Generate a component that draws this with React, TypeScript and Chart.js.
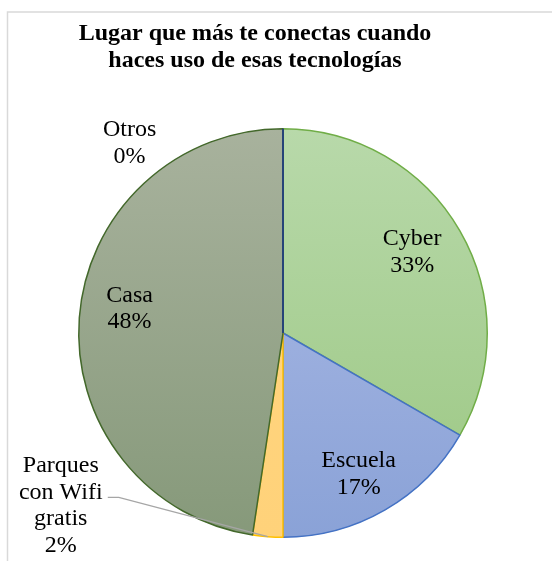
import React, { useEffect, useRef } from "react";
import { Chart, registerables } from "chart.js";

Chart.register(...registerables);

const TITLE_LINES = ["Lugar que más te conectas cuando", "haces uso de esas tecnologías"];
const CATEGORIES = ["Cyber", "Escuela", "Parques con Wifi gratis", "Casa", "Otros"];
const CATEGORY_LINES = [["Cyber"], ["Escuela"], ["Parques", "con Wifi", "gratis"], ["Casa"], ["Otros"]];
const VALUES = [14, 7, 1, 20, 0];

// styles
const GRAD_TOP = ["#b8d9aa", "#aebce6", "#ffd680", "#a8b29d", "#2f5597"];
const GRAD_BOTTOM = ["#9bc782", "#8aa2d7", "#ffd27a", "#86997a", "#2f5597"];
const BORDERS = ["#70ad47", "#4472c4", "#ffc000", "#43682b", "#264478"];
// label placement: polar (f, angleDeg) or relative offset (dx, dy) in radius units
const LABEL_PLACE: any[] = [
  { polar: true, f: 0.73, da: 0 },
  { polar: true, f: 0.81, da: 2.8 },
  { dx: -1.088, dy: 0.876, leader: true },
  { dx: -0.751, dy: -0.088 },
  { dx: -0.751, dy: -0.898 },
];

const SERIF = "'Liberation Serif', 'Times New Roman', serif";

export default function App() {
  const ref = useRef<HTMLCanvasElement | null>(null);

  useEffect(() => {
    const canvas = ref.current;
    if (!canvas) return;
    const total = VALUES.reduce((a, b) => a + b, 0);

    const grad = (c: any) => {
      const i = c.dataIndex ?? 0;
      const chart = c.chart;
      const area = chart.chartArea;
      if (!area) return GRAD_TOP[i];
      const g = chart.ctx.createLinearGradient(0, area.top, 0, area.bottom);
      g.addColorStop(0, GRAD_TOP[i]);
      g.addColorStop(1, GRAD_BOTTOM[i]);
      return g;
    };

    const overlay = {
      id: "overlay",
      afterDatasetsDraw(chart: any) {
        const ctx = chart.ctx;
        const meta = chart.getDatasetMeta(0);
        ctx.save();
        // frame
        ctx.strokeStyle = "#d9d9d9";
        ctx.lineWidth = 1.5;
        ctx.beginPath();
        ctx.moveTo(7.5, chart.height);
        ctx.lineTo(7.5, 12);
        ctx.lineTo(chart.width, 12);
        ctx.stroke();

        // title
        ctx.fillStyle = "#000";
        ctx.textAlign = "center";
        ctx.textBaseline = "alphabetic";
        ctx.font = `bold 24px ${SERIF}`;
        TITLE_LINES.forEach((t, k) => ctx.fillText(t, 255, 40 + k * 27));

        // zero-value slice line (Otros)
        meta.data.forEach((arc: any, i: number) => {
          if (VALUES[i] === 0) {
            ctx.strokeStyle = BORDERS[i];
            ctx.lineWidth = 2;
            ctx.beginPath();
            ctx.moveTo(arc.x, arc.y);
            ctx.lineTo(arc.x + Math.cos(arc.startAngle) * arc.outerRadius, arc.y + Math.sin(arc.startAngle) * arc.outerRadius);
            ctx.stroke();
          }
        });

        // labels
        ctx.font = `24px ${SERIF}`;
        const lh = 26.8;
        meta.data.forEach((arc: any, i: number) => {
          const p = LABEL_PLACE[i];
          const r = arc.outerRadius;
          let lx: number, ly: number;
          if (p.polar) {
            const mid = (arc.startAngle + arc.endAngle) / 2 + (p.da * Math.PI) / 180;
            lx = arc.x + Math.cos(mid) * r * p.f;
            ly = arc.y + Math.sin(mid) * r * p.f;
          } else {
            lx = arc.x + p.dx * r;
            ly = arc.y + p.dy * r;
          }
          const pct = Math.round((VALUES[i] / total) * 100) + "%";
          const lines = [...CATEGORY_LINES[i], pct];
          const n = lines.length;
          ctx.fillStyle = "#000";
          lines.forEach((t, k) => ctx.fillText(t, lx, ly - ((n - 1) * lh) / 2 + k * lh));
          if (p.leader) {
            const mid = (arc.startAngle + arc.endAngle) / 2;
            const ex = arc.x + Math.cos(mid) * r;
            const ey = arc.y + Math.sin(mid) * r;
            ctx.strokeStyle = "#a6a6a6";
            ctx.lineWidth = 1.3;
            ctx.beginPath();
            ctx.moveTo(lx + 47, ly - 14.5);
            ctx.lineTo(lx + 58, ly - 14.5);
            ctx.lineTo(ex, ey);
            ctx.stroke();
          }
        });
        ctx.restore();
      },
    };

    const chart = new Chart(canvas, {
      type: "pie",
      data: {
        labels: CATEGORIES,
        datasets: [
          {
            data: VALUES,
            backgroundColor: grad as any,
            borderColor: BORDERS,
            borderWidth: 1.5,
          },
        ],
      },
      options: {
        responsive: false,
        animation: false,
        layout: { padding: { left: 78, right: 64, top: 128, bottom: 23 } },
        plugins: {
          legend: { display: false },
          tooltip: { enabled: false },
          title: { display: false },
        },
      },
      plugins: [overlay],
    });

    let alive = true;
    const fonts: any = (document as any).fonts;
    if (fonts && fonts.load) {
      Promise.all([
        fonts.load(`24px "Liberation Serif"`),
        fonts.load(`bold 24px "Liberation Serif"`),
      ]).then(() => {
        if (alive) chart.draw();
      }).catch(() => {});
    }

    return () => {
      alive = false;
      chart.destroy();
    };
  }, []);

  return (
    <div style={{ position: "fixed", left: 0, top: 0, width: 552, height: 561, background: "#fff" }}>
      <span style={{ position: "absolute", left: -9999, fontFamily: "'Liberation Serif'" }}>a</span>
      <span style={{ position: "absolute", left: -9999, fontFamily: "'Liberation Serif'", fontWeight: "bold" }}>a</span>
      <canvas ref={ref} width={552} height={561} style={{ width: 552, height: 561, display: "block" }} />
    </div>
  );
}
